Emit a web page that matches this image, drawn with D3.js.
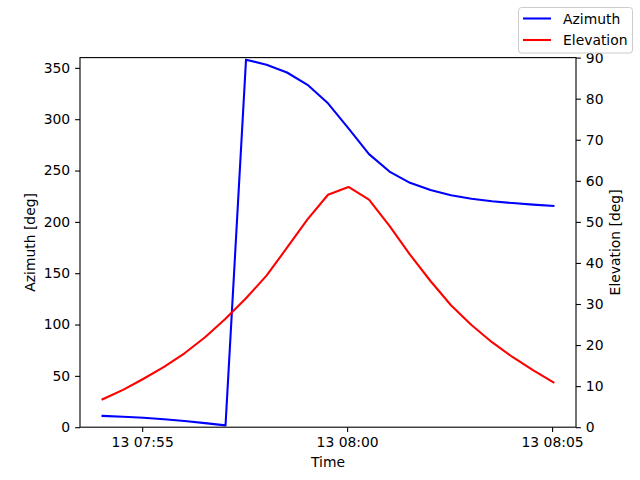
<!DOCTYPE html>
<html>
<head>
<meta charset="utf-8">
<script src="https://cdn.jsdelivr.net/npm/d3@7"></script>
<style>
  html, body { margin: 0; padding: 0; background: #fff; }
  svg { display: block; font-family: "DejaVu Sans", sans-serif; }
</style>
</head>
<body>
<svg id="chart" width="640" height="480"></svg>
<script>
// ---- data ----
const startTime = "2024-01-13T07:54:02Z";
const stepSeconds = 30;
const azimuth = [11.0, 10.2, 9.2, 7.8, 6.0, 4.0, 1.8, 358.0, 353.0, 345.5, 333.5, 315.5,
                 291.0, 266.0, 249.0, 238.0, 231.0, 226.0, 222.5, 220.0, 218.3, 216.8, 215.6];
const elevation = [6.8, 9.1, 11.8, 14.7, 18.0, 21.9, 26.4, 31.4, 36.9, 43.7, 50.6, 56.6,
                   58.5, 55.4, 49.0, 42.0, 35.6, 29.7, 24.9, 20.7, 17.1, 13.9, 10.9];
const azTicks = [0, 50, 100, 150, 200, 250, 300, 350];
const elTicks = [0, 10, 20, 30, 40, 50, 60, 70, 80, 90];
const timeTickLabels = ["2024-01-13T07:55:00Z", "2024-01-13T08:00:00Z", "2024-01-13T08:05:00Z"];
const seriesNames = ["Azimuth", "Elevation"];
const seriesColors = ["#0000ff", "#ff0000"];

const t0 = new Date(startTime).getTime();
const times = azimuth.map((_, i) => new Date(t0 + i * stepSeconds * 1000));

// ---- layout ----
const svg = d3.select("#chart");
const L = 80, R = 576, T = 57.6, B = 427.2;
const FS = 13.9;

const tMin = times[0].getTime(), tMax = times[times.length - 1].getTime();
const span = tMax - tMin;
const x = d3.scaleUtc().domain([new Date(tMin - 0.05 * span), new Date(tMax + 0.05 * span)]).range([L, R]);
const yL = d3.scaleLinear().domain([0, 360]).range([B, T]);
const yR = d3.scaleLinear().domain([0, 90]).range([B, T]);

const fmt = d3.utcFormat("%d %H:%M");

// lines
const lineAz = d3.line().x((d, i) => x(times[i])).y(d => yL(d));
const lineEl = d3.line().x((d, i) => x(times[i])).y(d => yR(d));

svg.append("path").datum(azimuth).attr("d", lineAz)
  .attr("fill", "none").attr("stroke", seriesColors[0]).attr("stroke-width", 2.08)
  .attr("stroke-linejoin", "round").attr("stroke-linecap", "square");
svg.append("path").datum(elevation).attr("d", lineEl)
  .attr("fill", "none").attr("stroke", seriesColors[1]).attr("stroke-width", 2.08)
  .attr("stroke-linejoin", "round").attr("stroke-linecap", "square");

// axes
function styleAxis(g) {
  g.select(".domain").remove();
  g.selectAll(".tick line").attr("stroke", "#000").attr("stroke-width", 1.1);
  g.selectAll(".tick text").attr("fill", "#000").attr("font-size", FS)
    .attr("font-family", "DejaVu Sans, sans-serif");
}

const xAxis = d3.axisBottom(x).tickValues(timeTickLabels.map(s => new Date(s)))
  .tickFormat(fmt).tickSize(4.9).tickPadding(4.9);
svg.append("g").attr("transform", `translate(0,${B})`).call(xAxis).call(styleAxis)
  .selectAll(".tick text").attr("dy", "0.71em");

const yAxisL = d3.axisLeft(yL).tickValues(azTicks).tickSize(4.9).tickPadding(4.9);
svg.append("g").attr("transform", `translate(${L},0)`).call(yAxisL).call(styleAxis);

const yAxisR = d3.axisRight(yR).tickValues(elTicks).tickSize(4.9).tickPadding(4.9);
svg.append("g").attr("transform", `translate(${R},0)`).call(yAxisR).call(styleAxis);

// frame
svg.append("rect").attr("x", L).attr("y", T).attr("width", R - L).attr("height", B - T)
  .attr("fill", "none").attr("stroke", "#000").attr("stroke-width", 1.1);

// axis labels
svg.append("text").attr("x", (L + R) / 2).attr("y", 467).attr("text-anchor", "middle")
  .attr("font-size", FS).text("Time");
svg.append("text").attr("transform", `translate(35,${(T + B) / 2}) rotate(-90)`)
  .attr("text-anchor", "middle").attr("font-size", FS).text("Azimuth [deg]");
svg.append("text").attr("transform", `translate(620,${(T + B) / 2}) rotate(-90)`)
  .attr("text-anchor", "middle").attr("font-size", FS).text("Elevation [deg]");

// legend
const lg = svg.append("g");
lg.append("rect").attr("x", 518.5).attr("y", 7.5).attr("width", 114).attr("height", 45.5)
  .attr("rx", 3).attr("fill", "#fff").attr("fill-opacity", 0.8)
  .attr("stroke", "#cccccc").attr("stroke-width", 1);
seriesNames.forEach((name, i) => {
  const yy = 18.5 + i * 21.5;
  lg.append("line").attr("x1", 523).attr("x2", 551).attr("y1", yy).attr("y2", yy)
    .attr("stroke", seriesColors[i]).attr("stroke-width", 2.08);
  lg.append("text").attr("x", 563).attr("y", yy).attr("dy", "0.36em")
    .attr("font-size", FS).text(name);
});
</script>
</body>
</html>
